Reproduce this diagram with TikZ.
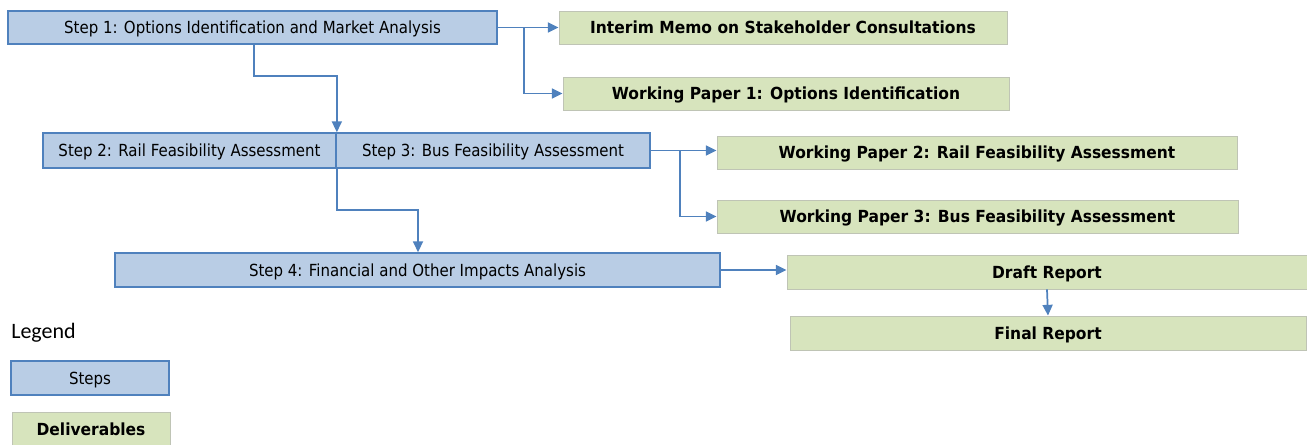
\documentclass[tikz,border=0pt]{standalone}
\usepackage{fontspec}
\setmainfont{DejaVu Sans}[FakeStretch=0.9]
\newfontfamily\delfont{DejaVu Sans}[FakeStretch=0.93]
\newfontfamily\legfont{Carlito}
\usetikzlibrary{arrows.meta,calc}
\definecolor{stepfill}{HTML}{B9CDE5}
\definecolor{stepdraw}{HTML}{4F81BD}
\definecolor{delfill}{HTML}{D7E4BD}
\definecolor{deldraw}{HTML}{BFC4B5}
\definecolor{arr}{HTML}{4F81BD}
\tikzset{
  stepbox/.style={draw=stepdraw, fill=stepfill, line width=1.3pt, inner sep=0pt, text height=9.5pt, text depth=0pt, font=\fontsize{12.5}{14}\selectfont},
  delbox/.style={draw=deldraw, fill=delfill, line width=0.7pt, inner sep=0pt, text height=9.5pt, text depth=0pt, font=\delfont\bfseries\fontsize{12.5}{14}\selectfont},
  conn/.style={draw=arr, line width=1.3pt, -{Triangle[length=8pt,width=7.5pt]}}
}
\newcommand{\bx}[7]{\node[#2, minimum width={#5*0.75pt}, minimum height={#6*0.75pt}] (#1) at (#3,#4) {#7};}
\begin{document}
\begin{tikzpicture}[x=0.75pt,y=-0.75pt]
\useasboundingbox (0,0) rectangle (1307,445);
% steps
\bx{s1}{stepbox}{252.5}{27.5}{489}{33}{Step 1: Options Identification and Market Analysis}
\bx{s2}{stepbox}{189.5}{150.5}{293}{35}{Step 2: Rail Feasibility Assessment}
\bx{s3}{stepbox}{493}{150.5}{314}{35}{Step 3: Bus Feasibility Assessment}
\bx{s4}{stepbox}{417.5}{270}{605}{34}{Step 4: Financial and Other Impacts Analysis}
% deliverables
\bx{d1}{delbox}{783}{27.5}{448}{33}{Interim Memo on Stakeholder Consultations}
\bx{d2}{delbox}{786}{93.5}{446}{33}{Working Paper 1: Options Identification}
\bx{d3}{delbox}{977}{152.5}{520}{33}{Working Paper 2: Rail Feasibility Assessment}
\bx{d4}{delbox}{977.5}{216.5}{521}{33}{Working Paper 3: Bus Feasibility Assessment}
\bx{d5}{delbox}{1047}{272}{520}{34}{Draft Report}
\bx{d6}{delbox}{1048}{333}{516}{34}{Final Report}
% legend
\node[anchor=base west, inner sep=0pt, font=\legfont\fontsize{16.5}{18}\selectfont] (lg) at (11,339) {Legend};
\bx{ls}{stepbox}{90}{378}{158}{34}{Steps}
\bx{ld}{delbox}{91}{429}{158}{33}{Deliverables}
% connectors
\coordinate (j1) at (254,76);
\coordinate (j2) at (418,210);
\coordinate (b1) at (524,0);
\coordinate (b2) at (680,0);
\draw[conn] (s1.south -| j1) -- (j1) -| (s2.north east);
\draw[conn] (s2.south east) |- (j2) -- (j2 |- s4.north);
\draw[conn] (s1.east) -- (s1.east -| d1.west);
\draw[conn] (s1.east -| b1) |- (d2.west);
\draw[conn] (s3.east) -- (s3.east -| d3.west);
\draw[conn] (s3.east -| b2) |- (d4.west);
\draw[conn] (s4.east) -- (s4.east -| d5.west);
\draw[conn] (d5.south) -- (d6.north);
\end{tikzpicture}
\end{document}
